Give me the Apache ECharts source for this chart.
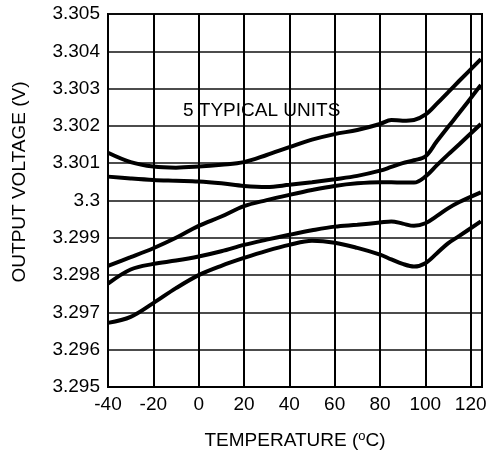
<!DOCTYPE html>
<html>
<head>
<meta charset="utf-8">
<script src="https://cdn.jsdelivr.net/npm/echarts@6/dist/echarts.min.js"></script>
<style>
html,body{margin:0;padding:0;background:#fff;}
#c{width:491px;height:452px;}
</style>
</head>
<body>
<div id="c"></div>
<script>
var temps = [-40,-30,-20,-10,0,10,20,30,40,50,60,70,80,85,90,95,100,105,110,115,124.5];
var unit1 = [3.30128,3.30103,3.30091,3.30088,3.30091,3.30096,3.30103,3.30122,3.30143,3.30163,3.30178,3.30189,3.30205,3.30216,3.30214,3.30216,3.30230,3.30259,3.30290,3.30321,3.30379];
var unit2 = [3.30064,3.30059,3.30055,3.30053,3.30051,3.30046,3.30039,3.30036,3.30042,3.30049,3.30057,3.30066,3.30080,3.30090,3.30100,3.30108,3.30118,3.30158,3.30197,3.30235,3.30310];
var unit3 = [3.29825,3.29848,3.29872,3.29900,3.29932,3.29957,3.29985,3.30001,3.30015,3.30028,3.30039,3.30046,3.30049,3.30049,3.30048,3.30048,3.30064,3.30094,3.30123,3.30151,3.30205];
var unit4 = [3.29777,3.29815,3.29830,3.29839,3.29850,3.29864,3.29881,3.29895,3.29908,3.29920,3.29930,3.29935,3.29941,3.29944,3.29938,3.29932,3.29939,3.29958,3.29979,3.29996,3.30022];
var unit5 = [3.29672,3.29688,3.29725,3.29765,3.29800,3.29825,3.29846,3.29865,3.29881,3.29892,3.29887,3.29873,3.29855,3.29842,3.29830,3.29823,3.29832,3.29858,3.29885,3.29905,3.29944];
var xTickLabels = ['-40','-20','0','20','40','60','80','100','120'];
var yTickLabels = ['3.295','3.296','3.297','3.298','3.299','3.3','3.301','3.302','3.303','3.304','3.305'];
var units = [unit1, unit2, unit3, unit4, unit5];

var FONT = 'Liberation Sans, Arial, sans-serif';
var FS = 19;
var chart = echarts.init(document.getElementById('c'));
function pairs(vals){ return temps.map(function(t,i){ return [t, vals[i]]; }); }
var series = units.map(function(u){
  return {
    type: 'line', data: pairs(u), smooth: 0.35, showSymbol: false,
    lineStyle: {color: '#000', width: 4}, silent: true
  };
});
chart.setOption({
  animation: false,
  grid: {left: 108, top: 14, right: 9, bottom: 65, show: true, borderColor: '#000', borderWidth: 2,
    containLabel: false, outerBoundsMode: 'none'},
  xAxis: {
    type: 'value', min: -40, max: 125, interval: 20,
    name: 'TEMPERATURE ({sup|o}C)', nameLocation: 'middle', nameGap: 43,
    nameTextStyle: {fontFamily: FONT, fontSize: FS, color: '#000',
      rich: {sup: {fontFamily: FONT, fontSize: 13, color: '#000', padding: [0,0,8,0]}}},
    axisLine: {lineStyle: {color: '#000', width: 2}},
    axisTick: {show: false},
    splitLine: {show: true, lineStyle: {color: '#000', width: 2}},
    axisLabel: {fontFamily: FONT, fontSize: FS, color: '#000', margin: 8,
      formatter: function(v){ var s = String(Math.round(v)); return xTickLabels.indexOf(s) >= 0 && v <= 120 ? s : ''; }}
  },
  yAxis: {
    type: 'value', min: 3.295, max: 3.305, interval: 0.001,
    axisLine: {lineStyle: {color: '#000', width: 2}},
    axisTick: {show: false},
    splitLine: {show: true, lineStyle: {color: '#111', width: 1.6}},
    axisLabel: {fontFamily: FONT, fontSize: FS, color: '#000', margin: 8,
      formatter: function(v){ var i = Math.round((v - 3.295) / 0.001); return yTickLabels[i] || ''; }}
  },
  graphic: [{
    type: 'text', left: 183, top: 101,
    style: {text: '5 TYPICAL UNITS', fontFamily: FONT, fontSize: FS, fill: '#000'}
  }, {
    type: 'text', x: 20, y: 182, rotation: Math.PI / 2,
    style: {text: 'OUTPUT VOLTAGE (V)', fontFamily: FONT, fontSize: FS, fill: '#000',
      align: 'center', verticalAlign: 'middle'}
  }],
  series: series
});
</script>
</body>
</html>
